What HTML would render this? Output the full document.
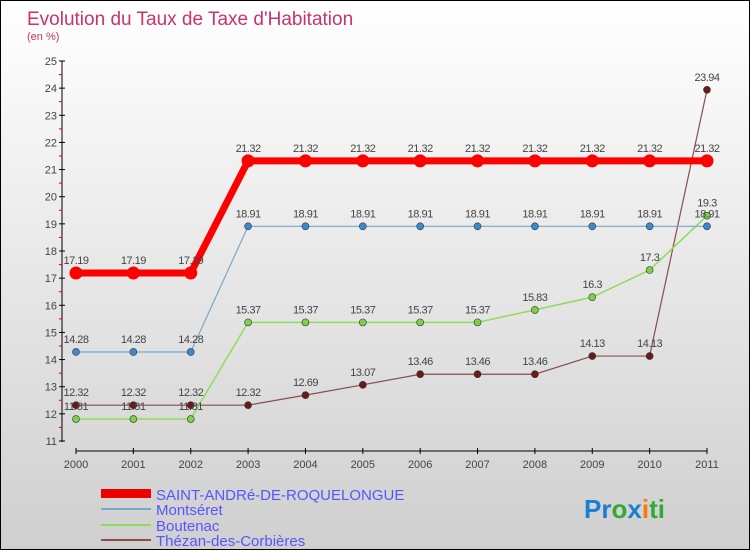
<!DOCTYPE html>
<html><head><meta charset="utf-8"><style>
body{margin:0}
#c{width:748px;height:548px;border:1px solid #000;background:linear-gradient(#fff,#cfcfcf);position:relative;font-family:"Liberation Sans",sans-serif;overflow:hidden}
</style></head><body>
<div id="c">
<svg id="s" width="748" height="548" style="position:absolute;left:0;top:0">
<text x="26" y="24" font-size="19" fill="#c8336a">Evolution du Taux de Taxe d'Habitation</text>
<text x="26" y="39" font-size="11" fill="#c8336a">(en %)</text>
<g id="g"></g>
<g>
<rect x="100" y="488" width="50" height="9" fill="#e00"/>
<text x="155" y="499" font-size="15" fill="#55f">SAINT-ANDRé-DE-ROQUELONGUE</text>
<line x1="100" y1="508" x2="150" y2="508" stroke="#7aa6cc" stroke-width="2"/>
<text x="155" y="514" font-size="15" fill="#55f">Montséret</text>
<line x1="100" y1="524" x2="150" y2="524" stroke="#8fdc5a" stroke-width="2"/>
<text x="155" y="530" font-size="15" fill="#55f">Boutenac</text>
<line x1="100" y1="539" x2="150" y2="539" stroke="#8b4c4c" stroke-width="2"/>
<text x="155" y="545" font-size="15" fill="#55f">Thézan-des-Corbières</text>
</g>
<text x="583" y="517" font-size="26" font-weight="bold"><tspan fill="#1a7fd0">Pr</tspan><tspan fill="#3a3">o</tspan><tspan fill="#1a7fd0">x</tspan><tspan fill="#f70">i</tspan><tspan fill="#3a3">ti</tspan></text>
</svg>
</div>
<script>
const years=["2000","2001","2002","2003","2004","2005","2006","2007","2008","2009","2010","2011"];
const yTicks=[11,12,13,14,15,16,17,18,19,20,21,22,23,24,25];
const saintAndre=[17.19,17.19,17.19,21.32,21.32,21.32,21.32,21.32,21.32,21.32,21.32,21.32];
const montseret=[14.28,14.28,14.28,18.91,18.91,18.91,18.91,18.91,18.91,18.91,18.91,18.91];
const boutenac=[11.81,11.81,11.81,15.37,15.37,15.37,15.37,15.37,15.83,16.3,17.3,19.3];
const thezan=[12.32,12.32,12.32,12.32,12.69,13.07,13.46,13.46,13.46,14.13,14.13,23.94];
const NS="http://www.w3.org/2000/svg",g=document.getElementById('g');
const X=i=>75+i*(631/11), Y=v=>440-(v-11)*(380/14);
function el(t,a,p){const e=document.createElementNS(NS,t);for(const k in a)e.setAttribute(k,a[k]);(p||g).appendChild(e);return e;}
let ax=el('line',{x1:61,y1:60,x2:61,y2:441,stroke:'#000'});


yTicks.forEach(v=>{el('line',{x1:58,x2:64,y1:Y(v),y2:Y(v),stroke:'#000'});
 if(v<25)el('line',{x1:58,x2:61,y1:Y(v+0.5),y2:Y(v+0.5),stroke:'#e00'});
 const t=el('text',{x:56,y:Y(v)+4,'font-size':11,fill:'#444','text-anchor':'end'});t.textContent=v;
 
 });
let xa=el('line',{x1:75,y1:450,x2:706,y2:450,stroke:'#000'});


years.forEach((y,i)=>{el('line',{x1:X(i),x2:X(i),y1:447,y2:453,stroke:'#000'});
 const t=el('text',{x:X(i),y:467,'font-size':11,fill:'#444','text-anchor':'middle'});t.textContent=y;
 
 });
function series(d,col,w,r,fill,name){
 const p=el('polyline',{points:d.map((v,i)=>X(i)+','+Y(v)).join(' '),fill:'none',stroke:col,'stroke-width':w});
 
 
 d.forEach((v,i)=>{const c=el('circle',{cx:X(i),cy:Y(v),r:r,fill:fill,stroke:'#333','stroke-width':r>4?0:0.6});
  
  
  const t=el('text',{x:X(i),y:Y(v)-9,'font-size':11,fill:'#444','text-anchor':'middle','letter-spacing':'-0.5'});t.textContent=v;
  
  });
}
series(thezan,'#8b4c4c',1.2,3.5,'#6b1a1a','thezan');
series(boutenac,'#8fdc5a',1.5,3.5,'#7ed04a','boutenac');
series(montseret,'#7aa6cc',1.2,3.5,'#3a8ad0','montseret');
series(saintAndre,'#ff0000',7,6.5,'#ff0000','saint-andre');
</script>
</body></html>
